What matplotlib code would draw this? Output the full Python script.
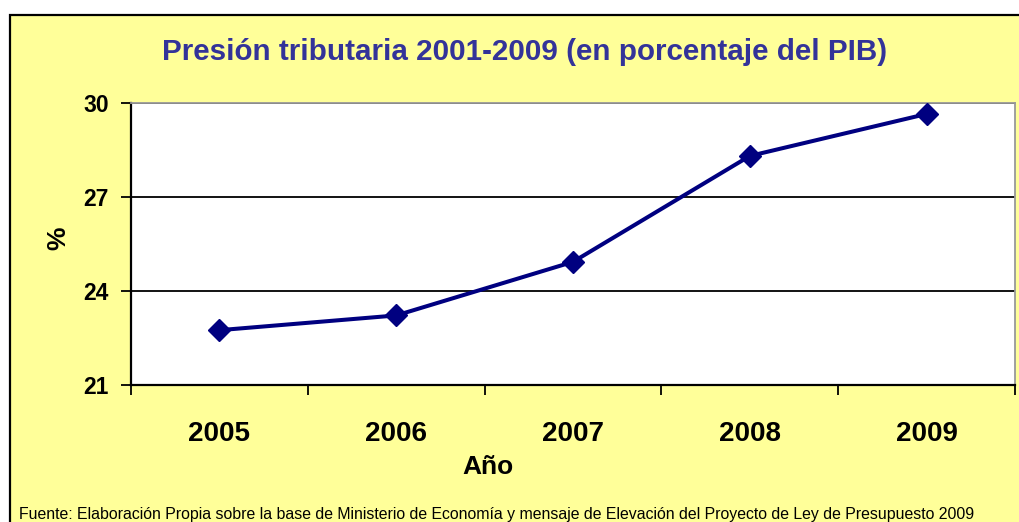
import matplotlib.pyplot as plt
from matplotlib.patches import Rectangle

# data
years = ['2005', '2006', '2007', '2008', '2009']
presion = [22.75, 23.22, 24.93, 28.31, 29.65]
y_ticks = [21, 24, 27, 30]

colors = {
    'bg': '#FFFF99',
    'title': '#333399',
    'line': '#000080',
    'text': '#000000',
}

plt.rcParams['font.family'] = ['Liberation Sans', 'DejaVu Sans']

fig = plt.figure(figsize=(10.2, 5.22), dpi=100)
fig.patch.set_facecolor('white')

# yellow chart area with black frame (runs off the right/bottom edge)
W, H = 1020, 522
frame = Rectangle((10 / W, -0.05), 1.2, 1 - 15 / H + 0.05, transform=fig.transFigure,
                  facecolor=colors['bg'], edgecolor='black', linewidth=1.6, zorder=-5)
fig.patches.append(frame)

ax = fig.add_axes([131 / W, 1 - 385 / H, 884 / W, 282 / H])
ax.set_zorder(1)
ax.set_facecolor('white')

x = list(range(len(years)))
ax.plot(x, presion, color=colors['line'], linewidth=2.9, marker='D',
        markersize=11, markerfacecolor=colors['line'], markeredgecolor=colors['line'],
        zorder=3)

ax.set_xlim(-0.5, len(years) - 0.5)
ax.set_ylim(21, 30)
ax.set_yticks(y_ticks)
ax.set_yticklabels([str(v) for v in y_ticks], fontsize=16.5, fontweight='bold')
ax.yaxis.grid(True, color='black', linewidth=1.3)

# category boundaries as major ticks, labels on minor ticks
ax.set_xticks([i - 0.5 for i in range(len(years) + 1)])
ax.set_xticklabels([])
ax.set_xticks(x, minor=True)
ax.set_xticklabels(years, minor=True, fontsize=20, fontweight='bold')
ax.tick_params(axis='x', which='major', length=7, width=1.3, direction='out')
ax.tick_params(axis='x', which='minor', length=0, pad=26)
ax.tick_params(axis='y', length=7, width=1.3, direction='out', pad=9)

for side in ['top', 'right']:
    ax.spines[side].set_color('#999999')
    ax.spines[side].set_linewidth(1.3)
for side in ['left', 'bottom']:
    ax.spines[side].set_color('black')
    ax.spines[side].set_linewidth(1.6)

# axis titles placed like the original (not centred on the plot area)
fig.text(488 / W, 1 - 467 / H, 'Año', fontsize=19, fontweight='bold',
         ha='center', va='center')
fig.text(58 / W, 1 - 238 / H, '%', fontsize=19, fontweight='bold',
         rotation=90, ha='center', va='center')

fig.text(525 / W, 1 - 52 / H, 'Presión tributaria 2001-2009 (en porcentaje del PIB)',
         fontsize=21.3, fontweight='bold', color=colors['title'], ha='center', va='center')

fig.text(19 / W, 1 - 515 / H,
         'Fuente: Elaboración Propia sobre la base de Ministerio de Economía y mensaje de '
         'Elevación del Proyecto de Ley de Presupuesto 2009',
         fontsize=11.4, color=colors['text'], ha='left', va='center')

fig.savefig('out.png', dpi=100, facecolor=fig.get_facecolor())
